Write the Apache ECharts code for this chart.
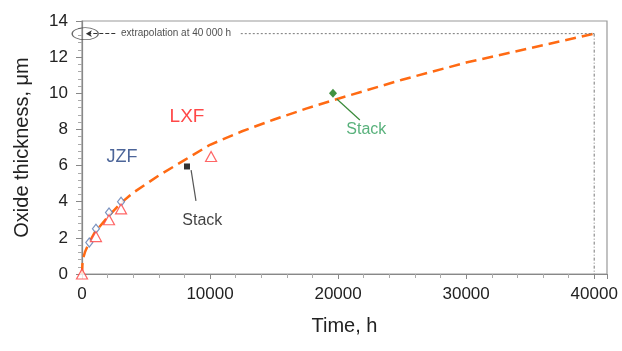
<!DOCTYPE html>
<html><head><meta charset="utf-8">
<script src="https://cdn.jsdelivr.net/npm/echarts@6/dist/echarts.min.js"></script>
<style>html,body{margin:0;padding:0;background:#fff}#c{width:622px;height:351px}</style>
</head><body><div id="c"></div>
<script>
const xTicks = [0, 10000, 20000, 30000, 40000];
const yTicks = [0, 2, 4, 6, 8, 10, 12, 14];
const fitCurve = [[0,0],[30,0.5],[100,0.9],[250,1.25],[600,1.8],[1000,2.3],[2000,3.15],[3000,3.9],[4000,4.5],[6000,5.45],[8000,6.3],[10000,7.15],[12500,7.9],[15000,8.55],[17500,9.15],[20000,9.7],[25000,10.75],[30000,11.7],[35000,12.5],[40000,13.3]];
const jzfPoints = [[570,1.74],[1090,2.5],[2110,3.4],[3050,4.0]];
const lxfPoints = [[0,0],[1090,2.07],[2110,3.0],[3050,3.6],[10080,6.5]];
const stackBlack = [[8200,5.95]];
const stackGreen = [[19600,10.0]];
const extrapEnd = [40000, 13.3];

const chart = echarts.init(document.getElementById('c'));
const font = 'Liberation Sans, Arial, sans-serif';
function txt(pos, text, color, size, align) {
  return { type:'scatter', data:[pos], symbolSize:0, silent:true, z:5,
    label:{show:true, position:'inside', formatter:text, color:color, fontSize:size, fontFamily:font, align:align||'center', verticalAlign:'middle'} };
}
function seg(a, b, color, type, width) {
  return { type:'line', data:[a,b], symbol:'none', silent:true, lineStyle:{color:color, type:type, width:width}, z:3 };
}
chart.setOption({
  animation:false,
  grid:{left:82, right:15, top:21, bottom:77, show:true, borderColor:'#999', borderWidth:1.2},
  xAxis:{type:'value', min:0, max:41000, interval:10000,
    name:'Time, h', nameLocation:'middle', nameGap:42, nameTextStyle:{fontSize:20, color:'#222', fontFamily:font},
    axisLine:{lineStyle:{color:'#888', width:1.2}},
    axisTick:{show:true, length:5, lineStyle:{color:'#888'}},
    minorTick:{show:true, splitNumber:5, length:4, lineStyle:{color:'#aaa'}},
    splitLine:{show:false},
    axisLabel:{fontSize:17, color:'#222', fontFamily:font, margin:12,
      formatter:v => xTicks.includes(v) ? String(v) : ''}},
  yAxis:{type:'value', min:0, max:14, interval:2,
    name:'Oxide thickness, \u03bcm', nameLocation:'middle', nameGap:50, nameRotate:90,
    nameTextStyle:{fontSize:20, color:'#222', fontFamily:font},
    axisLine:{show:true, lineStyle:{color:'#888', width:1.2}},
    axisTick:{show:true, length:6, lineStyle:{color:'#888'}},
    minorTick:{show:true, splitNumber:5, length:4, lineStyle:{color:'#aaa'}},
    splitLine:{show:false},
    axisLabel:{fontSize:17, color:'#222', fontFamily:font, margin:14,
      formatter:v => yTicks.includes(v) ? String(v) : ''}},
  series:[
    seg([12400, extrapEnd[1]], extrapEnd, '#777', [2,2], 1),
    seg(extrapEnd, [extrapEnd[0], 0], '#777', [3,2,1,2], 1),
    { type:'line', data:[], silent:true, z:3,
      markLine:{silent:true, symbol:['none','arrow'], symbolSize:[5,6], label:{show:false},
        lineStyle:{color:'#333', type:[4,2], width:1},
        data:[[{coord:[2600, extrapEnd[1]]},{coord:[300, extrapEnd[1]]}]]} },
    { type:'scatter', data:[[250, extrapEnd[1]]], symbol:'circle', symbolSize:[26,12], silent:true,
      itemStyle:{color:'rgba(0,0,0,0)', borderColor:'#444', borderWidth:1}, z:4 },
    txt([3050, extrapEnd[1]], 'extrapolation at 40 000 h', '#222', 10, 'left'),
    { type:'line', data:fitCurve, symbol:'none', smooth:false, lineStyle:{color:'#ff6a13', width:2.5, type:[11,6]}, z:2 },
    { type:'scatter', data:jzfPoints, symbol:'diamond', symbolSize:[7,9],
      itemStyle:{color:'#fff', borderColor:'#5a78b0', borderWidth:1.2}, z:6 },
    { type:'scatter', data:lxfPoints, symbol:'triangle', symbolSize:[11,10],
      itemStyle:{color:'#fff', borderColor:'#ff4040', borderWidth:1.2}, z:6 },
    { type:'scatter', data:stackBlack, symbol:'rect', symbolSize:6, itemStyle:{color:'#000'}, z:7 },
    { type:'scatter', data:stackGreen, symbol:'diamond', symbolSize:[8,9], itemStyle:{color:'#117711'}, z:7 },
    seg([8520,5.75],[8900,4.05], '#555', 'solid', 1.2),
    seg([19900,9.68],[21700,8.52], '#3a8a3a', 'solid', 1.2),
    txt([9400,2.93], 'Stack', '#111', 16),
    txt([22200,8.0], 'Stack', '#2e9e5a', 16),
    txt([8200,8.69], 'LXF', '#ff1a1a', 19),
    txt([3125,6.47], 'JZF', '#1f3f80', 18)
  ]
});
</script></body></html>
